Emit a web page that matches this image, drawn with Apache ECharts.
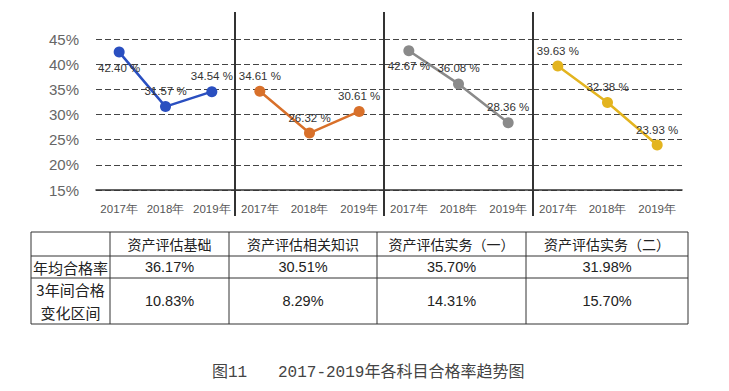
<!DOCTYPE html>
<html><head><meta charset="utf-8">
<script src="https://cdn.jsdelivr.net/npm/echarts@6/dist/echarts.min.js"></script>
<style>html,body{margin:0;padding:0;background:#fff}#c{width:729px;height:391px}</style>
</head><body><div id="c"></div>
<script>
// ---- data ----
const years = ['2017年', '2018年', '2019年'];
const subjects = ['资产评估基础', '资产评估相关知识', '资产评估实务（一）', '资产评估实务（二）'];
const rateBasic = [42.40, 31.57, 34.54];
const rateRelated = [34.61, 26.32, 30.61];
const ratePractice1 = [42.67, 36.08, 28.36];
const ratePractice2 = [39.63, 32.38, 23.93];
const yMin = 15, yMax = 45, yStep = 5;
const avgRate = ['36.17%', '30.51%', '35.70%', '31.98%'];
const rangeRate = ['10.83%', '8.29%', '14.31%', '15.70%'];
const rowHeads = ['年均合格率', '3年间合格\n变化区间'];
const captionNum = '图11';
const captionTitle = '2017-2019年各科目合格率趋势图';

// ---- layout / style ----
const seriesData = [rateBasic, rateRelated, ratePractice1, ratePractice2];
const colors = ['#2a4fc0', '#d8702a', '#8a8a8a', '#e3b41f'];
const panelEdges = [96, 235, 384, 533, 682];
const gridTop = 39, gridH = 151;
const belowFirst = [true, false, true, false];
const sansLat = '"Liberation Sans", Arial, sans-serif';
const cjk = '"Noto Sans CJK SC", sans-serif';

const grids = [], xAxes = [], yAxes = [], series = [];
for (let i = 0; i < 4; i++) {
  grids.push({ left: panelEdges[i], width: panelEdges[i + 1] - panelEdges[i], top: gridTop, height: gridH });
  xAxes.push({
    type: 'category', gridIndex: i, data: years, boundaryGap: true,
    axisLine: { lineStyle: { color: '#333', width: 1.5 } },
    axisTick: { show: false },
    axisLabel: { interval: 0, hideOverlap: false, color: '#555', fontSize: 11.5, fontFamily: sansLat, margin: 13 }
  });
  yAxes.push({
    type: 'value', gridIndex: i, min: yMin, max: yMax, interval: yStep,
    axisLine: { show: false }, axisTick: { show: false },
    axisLabel: { show: i === 0, formatter: '{value}%', color: '#666', fontSize: 15, fontFamily: sansLat, margin: 17 },
    splitLine: { lineStyle: { color: '#444', type: [6, 3], width: 1 } }
  });
  series.push({
    type: 'line', xAxisIndex: i, yAxisIndex: i,
    data: seriesData[i].map((v, j) => (j === 0 && belowFirst[i]) ? { value: v, label: { position: 'bottom' } } : v),
    symbol: 'circle', symbolSize: 11,
    lineStyle: { color: colors[i], width: 2.5 },
    itemStyle: { color: colors[i] },
    label: {
      show: true, position: 'top', distance: 4,
      formatter: p => p.value.toFixed(2) + ' %',
      color: '#333', fontSize: 11.5, fontFamily: sansLat
    }
  });
}

// dividers
const graphics = [];
for (let i = 1; i < 4; i++) {
  graphics.push({ type: 'line', shape: { x1: panelEdges[i], y1: 12, x2: panelEdges[i], y2: 216 }, style: { stroke: '#333', lineWidth: 2 }, z: 10 });
}

// table
const rowY = [232, 256, 278, 324];
const colX = [31, 110, 229, 377, 526, 688];
rowY.forEach(y => graphics.push({ type: 'line', shape: { x1: colX[0], y1: y, x2: colX[colX.length - 1], y2: y }, style: { stroke: '#333', lineWidth: 1 } }));
colX.forEach(x => graphics.push({ type: 'line', shape: { x1: x, y1: rowY[0], x2: x, y2: rowY[rowY.length - 1] }, style: { stroke: '#333', lineWidth: 1 } }));
function cellText(txt, ci, ri, font, lh) {
  graphics.push({
    type: 'text', x: (colX[ci] + colX[ci + 1]) / 2, y: (rowY[ri] + rowY[ri + 1]) / 2,
    style: { text: txt, textAlign: 'center', textVerticalAlign: 'middle', fill: '#222', font: font, lineHeight: lh }
  });
}
subjects.forEach((s, k) => cellText(s, k + 1, 0, 'normal 400 14px ' + cjk));
cellText(rowHeads[0], 0, 1, 'normal 400 15px ' + cjk);
cellText(rowHeads[1], 0, 2, 'normal 400 15px ' + cjk, 23);
avgRate.forEach((s, k) => cellText(s, k + 1, 1, 'normal 400 14.5px ' + sansLat));
rangeRate.forEach((s, k) => cellText(s, k + 1, 2, 'normal 400 14.5px ' + sansLat));

// caption
const capFont = 'normal 400 16px "Liberation Mono", ' + cjk;
graphics.push({ type: 'text', x: 212, y: 373, style: { text: captionNum, textVerticalAlign: 'middle', fill: '#444', font: capFont } });
graphics.push({ type: 'text', x: 278, y: 373, style: { text: captionTitle, textVerticalAlign: 'middle', fill: '#444', font: capFont } });

const chart = echarts.init(document.getElementById('c'), null, { renderer: 'svg' });
chart.setOption({
  backgroundColor: '#fff',
  animation: false,
  grid: grids, xAxis: xAxes, yAxis: yAxes, series: series,
  graphic: graphics
});
</script></body></html>
